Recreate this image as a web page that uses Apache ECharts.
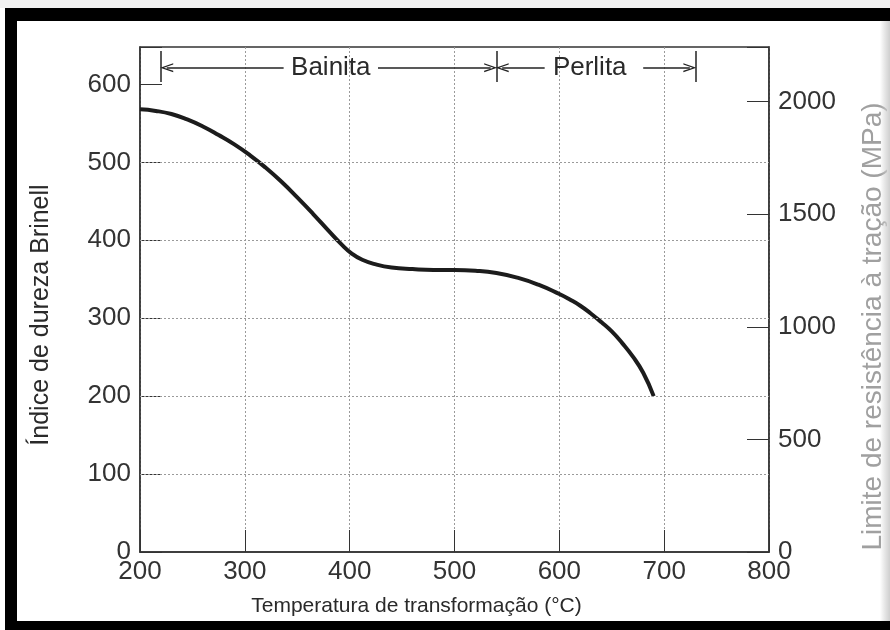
<!DOCTYPE html>
<html>
<head>
<meta charset="utf-8">
<script src="https://cdn.jsdelivr.net/npm/echarts@6/dist/echarts.min.js"></script>
<style>
html,body{margin:0;padding:0;background:#fff;}
#chart{width:890px;height:630px;}
</style>
</head>
<body>
<div id="chart"></div>
<script>
// ---- data ----
const temperatures = [200, 215, 230, 245, 260, 275, 290, 305, 320, 335, 350, 365, 380, 392, 402, 412, 425, 440, 460, 480, 500, 520, 540, 560, 580, 600, 610, 620, 630, 640, 650, 660, 670, 680, 690];
const brinell      = [568, 566, 562, 555, 546, 535, 523, 509, 493, 475, 455, 434, 412, 395, 383, 375, 369, 365, 363, 362, 362, 361, 358, 352, 343, 331, 324, 316, 306, 295, 283, 268, 251, 230, 200];
const hbGridValues = [100, 200, 300, 400, 500];
const regionNames  = ['Bainita', 'Perlita'];
const regionBounds = [[220, 540], [540, 730]];   // °C
const regionLabelT = [382, 629];                 // label centres (°C)
const regionGapT   = [[337, 427], [586, 680]];   // where text interrupts the arrow line (°C)
const bracketHB    = 621.5;                      // arrow height (HB units)
const bracketBarHB = [603, 643];                 // vertical bar extent
const xTitle = 'Temperatura de transformação (°C)';
const yLeftTitle = 'Índice de dureza Brinell';
const yRightTitle = 'Limite de resistência à tração (MPa)';

const FONT = "'Liberation Sans', Arial, Helvetica, sans-serif";
const INK = '#2a2a2a';
const chevron = 'path://M0,12 L4,0 L8,12 L6.7,12 L4,3.4 L1.3,12 Z';
const arrowInset = 5.5; // °C, so the chevron tip sits on the bar

const bracketLines = [];
regionBounds.forEach((b, i) => {
  const g = regionGapT[i];
  bracketLines.push([{coord: [b[0], bracketBarHB[0]], symbol: 'none'}, {coord: [b[0], bracketBarHB[1]], symbol: 'none'}]);
  bracketLines.push([{coord: [g[0], bracketHB], symbol: 'none'}, {coord: [b[0] + arrowInset, bracketHB], symbol: chevron, symbolSize: [9, 13]}]);
  bracketLines.push([{coord: [g[1], bracketHB], symbol: 'none'}, {coord: [b[1] - arrowInset, bracketHB], symbol: chevron, symbolSize: [9, 13]}]);
});
bracketLines.push([{coord: [regionBounds[1][1], bracketBarHB[0]], symbol: 'none'}, {coord: [regionBounds[1][1], bracketBarHB[1]], symbol: 'none'}]);

const chart = echarts.init(document.getElementById('chart'), null, {renderer: 'canvas'});
chart.setOption({
  backgroundColor: '#fff',
  animation: false,
  textStyle: {fontFamily: FONT},
  grid: {left: 140, top: 47, right: 121, bottom: 78, containLabel: false, outerBoundsMode: 'none',
         show: true, borderColor: '#333', borderWidth: 1.5, backgroundColor: 'transparent'},
  xAxis: {
    type: 'value', min: 200, max: 800, interval: 100,
    name: xTitle, nameLocation: 'middle', nameGap: 44,
    nameTextStyle: {fontSize: 21, color: INK, fontFamily: FONT, padding: [0, 76, 0, 0]},
    axisLine: {lineStyle: {color: '#333', width: 1.5}},
    axisTick: {inside: true, length: 22, lineStyle: {color: '#333', width: 1}},
    axisLabel: {fontSize: 26, color: '#333', margin: 7, fontFamily: FONT},
    splitLine: {show: true, lineStyle: {color: '#9a9a9a', type: [2, 2], width: 1}}
  },
  yAxis: [{
    type: 'value', min: 0, max: 648, interval: 100, position: 'left',
    name: yLeftTitle, nameLocation: 'middle', nameGap: 86, nameRotate: 90,
    nameTextStyle: {fontSize: 25, color: INK, fontFamily: FONT, padding: [0, 31, 0, 0]},
    axisLine: {show: true, lineStyle: {color: '#333', width: 1.5}},
    axisTick: {inside: true, length: 22, lineStyle: {color: '#333', width: 1}},
    axisLabel: {fontSize: 26, color: '#333', margin: 9, fontFamily: FONT, formatter: v => (v % 100 === 0 ? String(v) : '')},
    splitLine: {show: false}
  }, {
    type: 'value', min: 0, max: 2242, interval: 500, position: 'right',
    name: yRightTitle, nameLocation: 'middle', nameGap: 90, nameRotate: 90,
    nameTextStyle: {fontSize: 28, color: '#a0a0a0', fontFamily: FONT, padding: [0, 54, 0, 0]},
    axisLine: {show: true, lineStyle: {color: '#333', width: 1.5}},
    axisTick: {inside: true, length: 22, lineStyle: {color: '#333', width: 1}},
    axisLabel: {fontSize: 26, color: '#333', margin: 9, fontFamily: FONT, formatter: v => (v % 500 === 0 ? String(v) : '')},
    splitLine: {show: false}
  }],
  graphic: [
    {type: 'rect', shape: {x: 0, y: 0, width: 890, height: 8}, style: {fill: '#f2f2f2'}, z: 100},
    {type: 'rect', shape: {x: 5, y: 8, width: 885, height: 13}, style: {fill: '#000'}, z: 100},
    {type: 'rect', shape: {x: 5, y: 8, width: 12, height: 622}, style: {fill: '#000'}, z: 100},
    {type: 'rect', shape: {x: 5, y: 621, width: 885, height: 9}, style: {fill: '#000'}, z: 100},
    {type: 'rect', shape: {x: 880, y: 21, width: 10, height: 600}, style: {fill: new echarts.graphic.LinearGradient(0, 0, 1, 0, [{offset: 0, color: 'rgba(200,200,200,0)'}, {offset: 1, color: '#cfcfcf'}])}, z: 100}
  ],
  series: [{
    name: 'grid', type: 'line', data: [], z: 1, silent: true,
    markLine: {
      silent: true, symbol: 'none', label: {show: false},
      lineStyle: {color: '#9a9a9a', type: [2, 2], width: 1},
      data: hbGridValues.map(v => ({yAxis: v}))
    }
  }, {
    name: 'brackets', type: 'line', data: [], z: 4, silent: true,
    markLine: {
      silent: true, label: {show: false},
      lineStyle: {color: '#222', type: 'solid', width: 1.5},
      data: bracketLines
    },
    markPoint: {
      silent: true, symbol: 'rect', symbolSize: 1,
      itemStyle: {color: 'rgba(0,0,0,0)'},
      label: {show: true, position: 'inside', formatter: p => p.name, fontSize: 26, color: INK, fontFamily: FONT},
      data: regionNames.map((n, i) => ({name: n, coord: [regionLabelT[i], bracketHB]}))
    }
  }, {
    name: 'Brinell', type: 'line', smooth: 0.5, showSymbol: false, z: 3,
    data: temperatures.map((t, i) => [t, brinell[i]]),
    lineStyle: {color: '#1c1c1c', width: 4}
  }]
});
</script>
</body>
</html>
